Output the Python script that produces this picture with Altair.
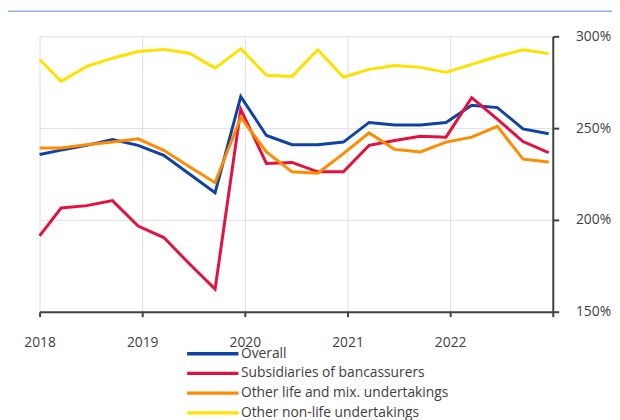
import altair as alt
import pandas as pd

# decimal-year positions of the quarterly observations
period = [2018.0, 2018.21, 2018.46, 2018.71, 2018.96, 2019.21, 2019.46, 2019.71,
          2019.96, 2020.21, 2020.46, 2020.71, 2020.96, 2021.21, 2021.46, 2021.71,
          2021.96, 2022.21, 2022.46, 2022.71, 2022.96]

series_names = ["Overall", "Subsidiaries of bancassurers",
                "Other life and mix. undertakings", "Other non-life undertakings"]
series_colors = ["#0e43a3", "#e4113f", "#ff8c00", "#ffe100"]

overall = [235.6, 238.0, 240.6, 243.8, 240.6, 235.2, 225.0, 214.8, 267.2, 246.0,
           241.0, 241.0, 242.4, 253.1, 251.7, 251.7, 253.1, 262.5, 261.2, 249.6, 246.9]
subsidiaries = [191.3, 206.5, 207.8, 210.5, 196.7, 190.4, 176.1, 162.3, 260.3, 230.8,
                231.3, 226.2, 226.2, 240.6, 243.3, 245.6, 245.1, 266.6, 254.9, 242.7, 236.7]
other_life = [239.2, 239.2, 241.0, 242.4, 244.2, 237.9, 229.0, 220.3, 255.8, 237.0,
              226.2, 225.4, 236.1, 247.4, 238.4, 237.0, 242.4, 245.1, 251.0, 233.1, 231.6]
non_life = [287.4, 275.5, 283.6, 288.1, 291.7, 292.9, 290.8, 282.7, 293.3, 278.8,
            278.2, 292.7, 277.7, 282.0, 284.1, 283.1, 280.4, 284.7, 289.0, 292.7, 290.6]

x_ticks = [2018, 2019, 2020, 2021, 2022, 2023]
y_ticks = [150, 200, 250, 300]

rows = []
for order, (name, vals) in enumerate(zip(series_names, [overall, subsidiaries, other_life, non_life])):
    for p, v in zip(period, vals):
        rows.append({"period": p, "value": v, "series": name, "order": order})
df = pd.DataFrame(rows)

FONT = "Open Sans"
TXT = "#404040"

lines = alt.Chart(df).mark_line(strokeWidth=3).encode(
    x=alt.X("period:Q",
            scale=alt.Scale(domain=[2018, 2023], nice=False, zero=False),
            axis=alt.Axis(values=x_ticks, title=None, grid=True, gridColor="#dedede",
                          labelExpr="datum.value < 2023 ? format(datum.value, 'd') : ''",
                          labelFlush=False,
                          domainColor=TXT, domainWidth=2, tickColor=TXT, tickWidth=2,
                          tickSize=5, labelPadding=19, labelFont=FONT, labelFontSize=14,
                          labelColor=TXT)),
    y=alt.Y("value:Q",
            scale=alt.Scale(domain=[150, 300], nice=False, zero=False),
            axis=alt.Axis(values=y_ticks, orient="right", title=None, grid=True,
                          gridColor="#dedede", labelExpr="datum.value + '%'",
                          labelFlush=False,
                          domainColor=TXT, domainWidth=2, tickColor=TXT, tickWidth=2,
                          tickSize=6, labelPadding=17, labelFont=FONT, labelFontSize=14,
                          labelColor=TXT)),
    color=alt.Color("series:N",
                    scale=alt.Scale(domain=series_names, range=series_colors),
                    legend=alt.Legend(title=None, orient="none", legendX=167, legendY=313,
                                      direction="vertical",
                                      symbolType="M-4,0L4,0", symbolSize=169,
                                      symbolStrokeWidth=3.5, labelOffset=20,
                                      rowPadding=4, labelFont=FONT, labelFontSize=14,
                                      labelColor=TXT, labelLimit=0)),
    order=alt.Order("order:Q"),
)

header = alt.Chart(alt.Data(values=[{}])).mark_rule(color="#5b8bd0", strokeWidth=1).encode(
    x=alt.value(-40), x2=alt.value(580), y=alt.value(-25.5)
)

chart = alt.layer(lines, header).properties(
    width=520, height=279,
    autosize=alt.AutoSizeParams(type="none"),
    padding={"left": 32, "top": 26, "right": 60, "bottom": 107},
).configure_view(stroke=None)

chart.save("out.html", embed_options={"renderer": "svg", "actions": False})
